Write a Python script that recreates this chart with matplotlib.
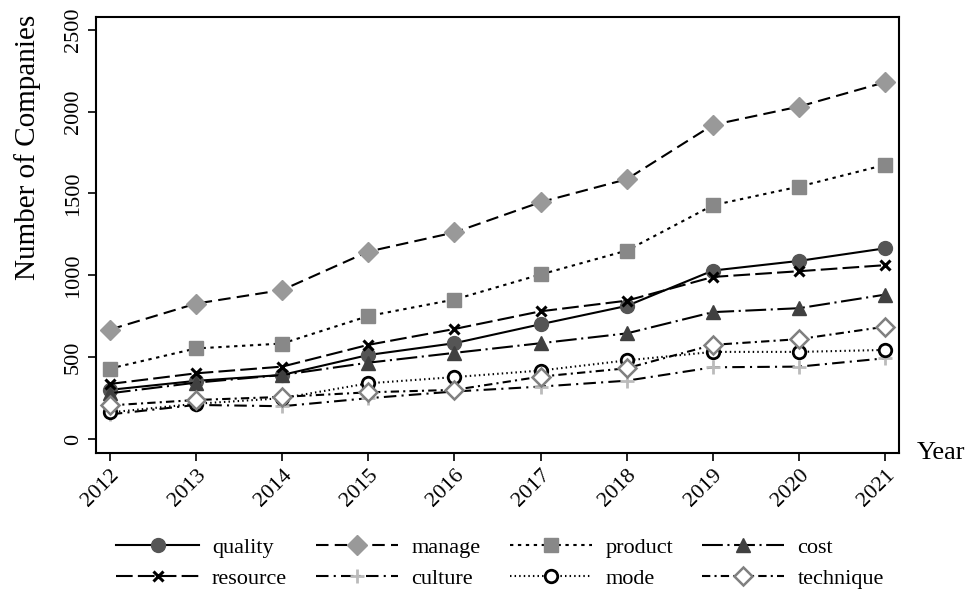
import matplotlib
matplotlib.use("Agg")
import matplotlib.pyplot as plt

plt.rcParams["font.family"] = ["Liberation Serif", "DejaVu Serif"]

# counts per keyword, 2012-2021
years = [2012, 2013, 2014, 2015, 2016, 2017, 2018, 2019, 2020, 2021]
quality = [300, 355, 391, 513, 585, 701, 813, 1029, 1088, 1165]
manage = [668, 827, 910, 1145, 1262, 1447, 1587, 1919, 2031, 2180]
product = [430, 553, 583, 751, 852, 1005, 1151, 1428, 1542, 1675]
cost = [279, 344, 391, 466, 526, 585, 645, 775, 799, 882]
resource = [336, 401, 442, 575, 672, 780, 845, 990, 1025, 1062]
culture = [150, 208, 200, 249, 290, 320, 356, 438, 442, 493]
mode = [162, 215, 249, 340, 378, 418, 480, 532, 532, 544]
technique = [205, 238, 257, 285, 300, 381, 432, 575, 610, 686]

series = [
    ("quality", quality, dict(ls="-", marker="o", ms=10, mfc="#555555", mec="#555555")),
    ("manage", manage, dict(ls=(0, (6, 3)), marker="D", ms=10, mfc="#999999", mec="#999999")),
    ("product", product, dict(ls=(0, (1.6, 2.2)), marker="s", ms=10, mfc="#888888", mec="#888888")),
    ("cost", cost, dict(ls=(0, (10, 2.2, 1, 2.2)), marker="^", ms=10, mfc="#404040", mec="#404040")),
    ("resource", resource, dict(ls=(0, (8, 2.5)), marker="x", ms=7, mew=2.2, mec="black")),
    ("culture", culture, dict(ls=(0, (6, 2.5, 1, 2.5)), marker="+", ms=10, mew=2, mec="#bbbbbb")),
    ("mode", mode, dict(ls=(0, (0.7, 1.5)), marker="o", ms=9, mew=2, mfc="white", mec="black")),
    ("technique", technique, dict(ls=(0, (4, 2, 1, 2)), marker="D", ms=9, mew=1.8, mfc="white", mec="#808080")),
]

fig = plt.figure(figsize=(9.73, 5.91), dpi=100)
ax = fig.add_axes([0.0987, 0.234, 0.8253, 0.738])

handles = []
for name, vals, kw in series:
    ln, = ax.plot(years, vals, color="black", lw=1.5, label=name, **kw)
    handles.append(ln)

ax.set_xlim(2011.84, 2021.16)
ax.set_ylim(-84, 2581)
ax.set_xticks(years)
ax.set_xticklabels([str(y) for y in years], rotation=45, ha="right",
                   rotation_mode="anchor")
ax.set_yticks([0, 500, 1000, 1500, 2000, 2500])
ax.set_yticklabels(["0", "500", "1000", "1500", "2000", "2500"],
                   rotation=90, va="center")
ax.tick_params(axis="both", direction="out", length=6, width=1.2,
               color="black", labelsize=16)
for s in ax.spines.values():
    s.set_linewidth(1.5)

ax.set_ylabel("Number of Companies", fontsize=21)
ax.yaxis.set_label_coords(-0.068, 0.70)
fig.text(0.942, 0.234, "Year", fontsize=19, va="center", ha="left")

# legend fills row by row: reorder for matplotlib's column-major layout
order = [0, 4, 1, 5, 2, 6, 3, 7]
fig.legend([handles[i] for i in order], [series[i][0] for i in order],
           loc="center", bbox_to_anchor=(0.514, 0.047), ncol=4, frameon=False,
           fontsize=16, handlelength=3.7, columnspacing=1.3, handletextpad=0.6,
           labelspacing=0.45)

fig.savefig("out.png", dpi=100)
